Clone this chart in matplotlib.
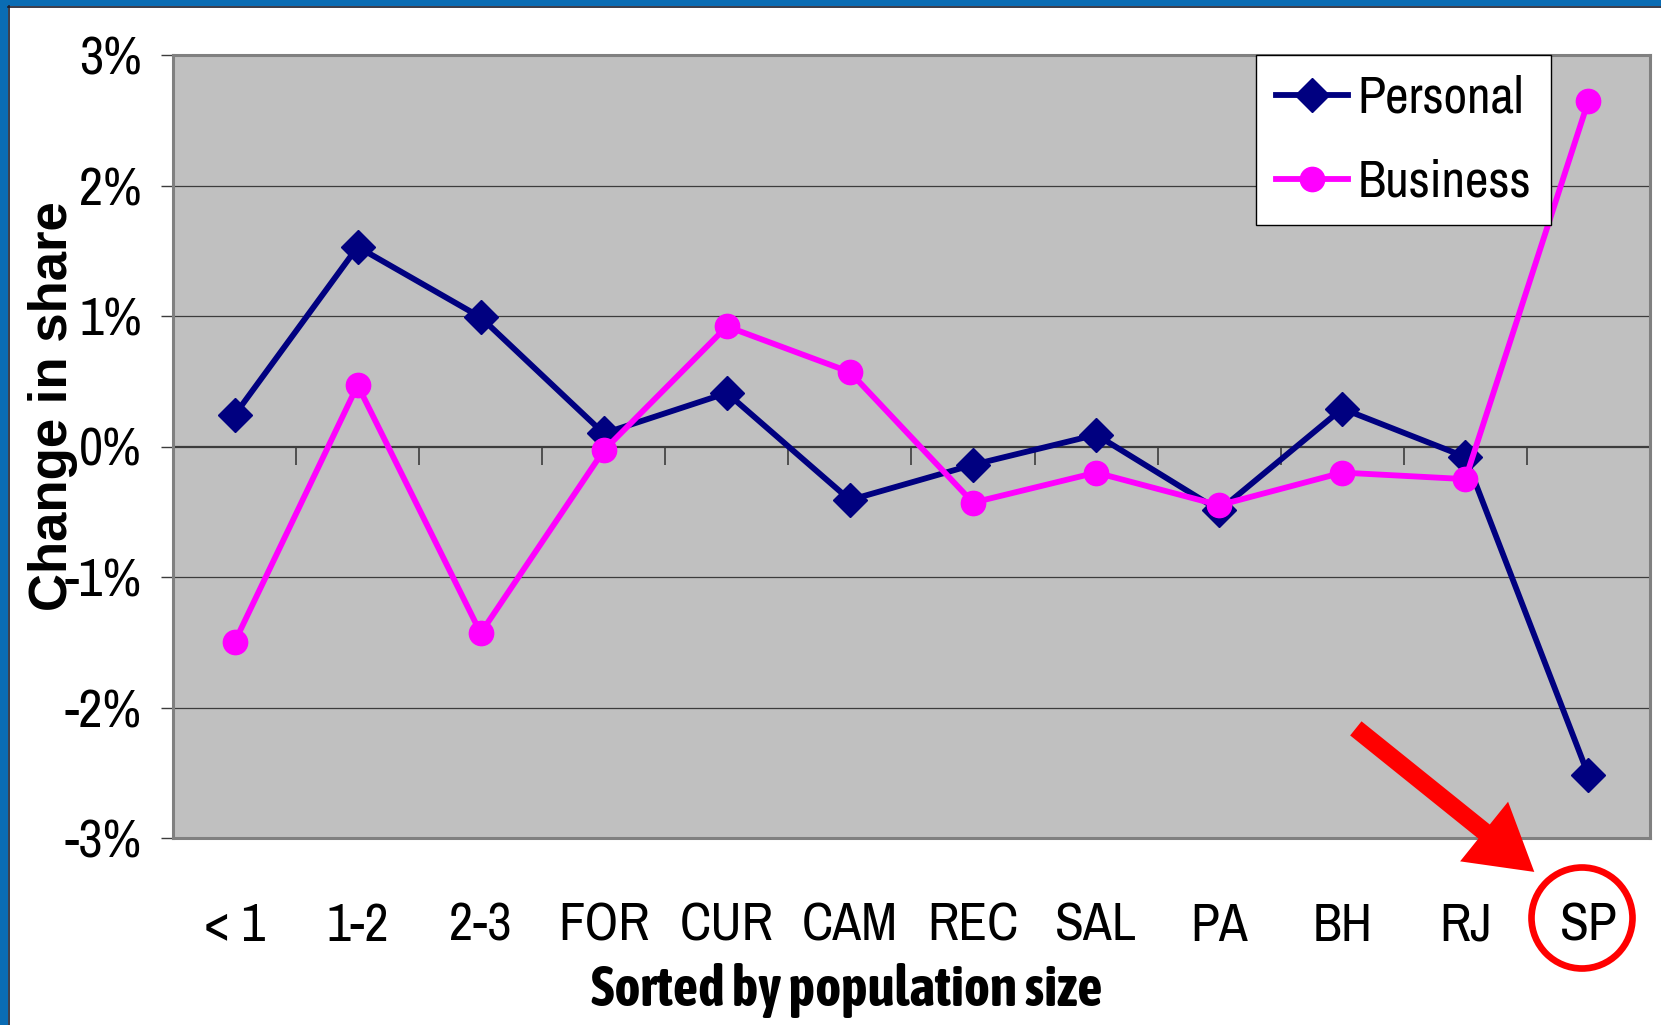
import matplotlib.pyplot as plt
import matplotlib.patches as mpatches
import numpy as np

categories = ["< 1", "1-2", "2-3", "FOR", "CUR", "CAM", "REC", "SAL", "PA", "BH", "RJ", "SP"]
personal = [0.24, 1.53, 0.99, 0.10, 0.41, -0.41, -0.14, 0.09, -0.49, 0.29, -0.08, -2.52]
business = [-1.50, 0.47, -1.43, -0.03, 0.92, 0.57, -0.43, -0.20, -0.45, -0.20, -0.25, 2.65]
y_ticks = [-3, -2, -1, 0, 1, 2, 3]
y_tick_labels = ["-3%", "-2%", "-1%", "0%", "1%", "2%", "3%"]

NARROW = ["Archivo Narrow", "DejaVu Sans"]
NARROW_BOLD = ["Asap Condensed", "DejaVu Sans"]
BOLD = ["Liberation Sans", "DejaVu Sans"]

W, H = 1661, 1025
fig = plt.figure(figsize=(W / 100, H / 100), dpi=100)
fig.patch.set_facecolor("white")

# blue slide frame on left and top
fig.patches.append(mpatches.Rectangle((0, 0), 8 / W, 1, transform=fig.transFigure,
                                      facecolor="#0A6CB4", edgecolor="none", zorder=0))
fig.patches.append(mpatches.Rectangle((0, 1 - 6 / H), 1, 6 / H, transform=fig.transFigure,
                                      facecolor="#0A6CB4", edgecolor="none", zorder=0))
fig.add_artist(plt.Line2D([8.5 / W, 8.5 / W], [0, 1 - 6 / H], color="#1a1a2a", lw=1.2,
                          transform=fig.transFigure))
fig.add_artist(plt.Line2D([8 / W, 1], [1 - 6.5 / H, 1 - 6.5 / H], color="#1a1a2a", lw=1.2,
                          transform=fig.transFigure))

ax = fig.add_axes([173 / W, 187 / H, 1477 / W, 783 / H])
ax.set_facecolor("#C0C0C0")

x = np.arange(len(categories))
ax.set_xlim(-0.5, len(categories) - 0.5)
ax.set_ylim(-3, 3)

for yv in y_ticks:
    if yv != 0:
        ax.axhline(yv, color="#3c3c3c", lw=0.9, zorder=1)
ax.axhline(0, color="#3c3c3c", lw=1.6, zorder=1)
ax.vlines(x[:-1] + 0.5, -0.14, 0, color="#3c3c3c", lw=1.2, zorder=1)

ax.plot(x, personal, color="#000080", lw=4.2, marker="D", ms=17, label="Personal", zorder=3)
ax.plot(x, business, color="#FF00FF", lw=4.2, marker="o", ms=17.5, label="Business", zorder=4)

ax.set_yticks(y_ticks)
ax.set_yticklabels(y_tick_labels, fontsize=38, family=NARROW)
ax.tick_params(axis="y", direction="out", length=8.6, width=1, color="#3c3c3c", pad=14)
ax.set_xticks(x)
ax.set_xticklabels(categories, fontsize=38, family=NARROW)
ax.tick_params(axis="x", length=0, pad=46)

for s in ax.spines.values():
    s.set_color("#808080")
    s.set_linewidth(2.2)

leg = ax.legend(loc="upper left", bbox_to_anchor=(0.7333, 1.0), borderaxespad=0,
                prop={"family": NARROW, "size": 37}, frameon=True, fancybox=False,
                edgecolor="black", handlelength=1.4, handletextpad=0.2,
                labelspacing=0.72, borderpad=0.38)
leg.get_frame().set_linewidth(1.0)
leg.get_frame().set_facecolor("white")
leg.get_frame().set_alpha(1)

fig.text(53 / W, 1 - 406 / H, "Change in share", rotation=90, ha="center", va="center",
         fontsize=38, fontweight="bold", family=BOLD)
fig.text(847 / W, 1 - 990 / H, "Sorted by population size", ha="center", va="center",
         fontsize=40, fontweight="bold", family=NARROW_BOLD)

# red arrow pointing at SP
ax.annotate("", xy=(10.56, -3.26), xytext=(9.11, -2.16), annotation_clip=False,
            arrowprops=dict(arrowstyle="simple,head_length=1.6,head_width=1.9,tail_width=0.45",
                            color="#FF0000", lw=0, mutation_scale=29, shrinkA=0, shrinkB=0))
fig.patches.append(mpatches.Ellipse((1582 / W, 1 - 918 / H), 101 / W, 101 / H,
                                    transform=fig.transFigure, fill=False,
                                    edgecolor="#FF0000", lw=4.8))

fig.savefig("out.png", dpi=100)
